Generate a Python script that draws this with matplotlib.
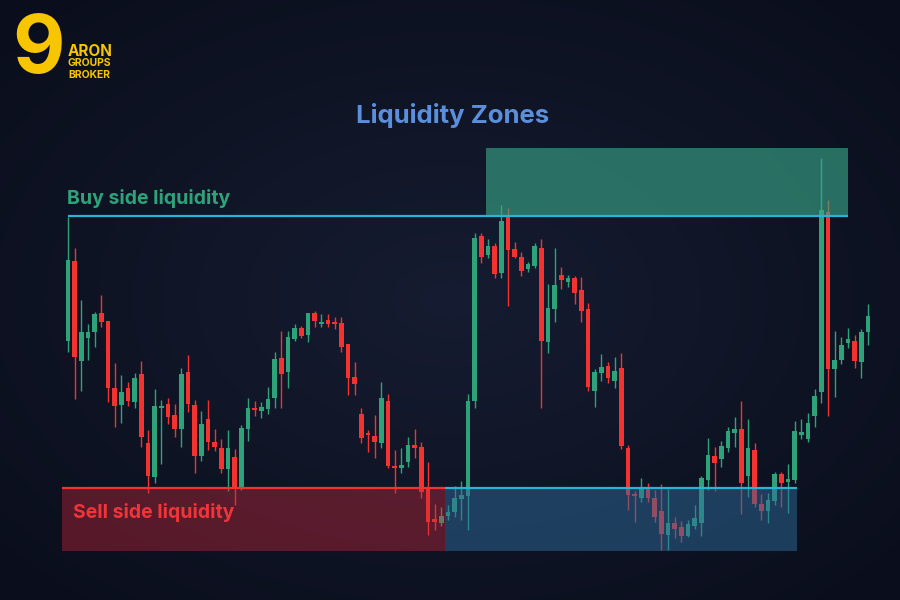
import numpy as np
import matplotlib.pyplot as plt
from matplotlib.patches import Rectangle

# candle data, price units (higher = up)
opens = [259, 339, 239, 262, 268, 287, 279, 212, 195, 212,
         198, 226, 157, 123, 192, 196, 185, 171, 228, 195,
         144, 181, 158, 152, 131, 143, 113, 171, 192, 189,
         191, 202, 242, 228, 261, 272, 265, 287, 276, 280,
         278, 277, 256, 223, 186, 167, 164, 157, 199, 134,
         132, 138, 155, 153, 111, 81, 77, 84, 88, 101,
         104, 199, 364, 345, 354, 327, 383, 351, 343, 331,
         334, 352, 258, 291, 325, 318, 322, 310, 291, 209,
         227, 234, 219, 232, 152, 106, 102, 112, 102, 89,
         65, 77, 73, 64, 74, 77, 120, 144, 141, 152,
         167, 171, 124, 150, 96, 89, 99, 126, 118, 120,
         165, 161, 184, 208, 388, 231, 240, 257, 259, 238,
         268]
closes = [340, 243, 268, 268, 286, 278, 212, 194, 208, 199,
          222, 163, 124, 194, 194, 183, 171, 226, 196, 144,
          176, 158, 153, 131, 152, 113, 172, 192, 190, 193,
          201, 241, 226, 263, 272, 264, 287, 279, 278, 276,
          276, 253, 222, 216, 162, 165, 158, 202, 134, 132,
          135, 155, 152, 108, 78, 78, 84, 88, 102, 105,
          199, 362, 343, 354, 326, 379, 350, 343, 329, 336,
          354, 259, 292, 315, 320, 322, 307, 289, 213, 228,
          233, 222, 229, 154, 105, 104, 112, 102, 83, 66,
          77, 71, 64, 76, 82, 122, 145, 137, 154, 169,
          171, 117, 152, 96, 89, 100, 126, 117, 121, 169,
          168, 177, 204, 390, 231, 240, 255, 261, 239, 268,
          284]
highs = [383, 352, 300, 276, 288, 305, 279, 237, 225, 218,
         227, 239, 170, 211, 200, 202, 196, 232, 245, 200,
         189, 200, 171, 161, 170, 151, 175, 202, 199, 198,
         213, 248, 269, 269, 276, 274, 287, 289, 286, 286,
         283, 283, 256, 238, 192, 170, 185, 218, 206, 150,
         152, 163, 171, 158, 138, 96, 93, 95, 114, 119,
         206, 367, 367, 361, 357, 395, 392, 358, 348, 338,
         357, 361, 316, 352, 333, 325, 324, 323, 297, 231,
         246, 238, 243, 247, 155, 109, 122, 117, 110, 116,
         111, 83, 79, 80, 95, 124, 162, 153, 159, 173,
         183, 199, 181, 157, 106, 107, 128, 128, 136, 179,
         181, 187, 211, 442, 400, 269, 263, 272, 265, 271,
         296]
lows = [248, 201, 209, 240, 253, 273, 198, 173, 177, 194,
        192, 153, 107, 117, 136, 176, 163, 153, 188, 127,
        139, 150, 149, 127, 109, 95, 110, 159, 184, 182,
        186, 192, 192, 212, 259, 262, 258, 273, 273, 273,
        271, 248, 205, 205, 157, 148, 142, 152, 132, 107,
        127, 133, 142, 102, 65, 70, 74, 80, 83, 80,
        70, 192, 337, 342, 322, 322, 294, 342, 324, 328,
        332, 192, 247, 278, 311, 313, 296, 278, 209, 193,
        219, 217, 212, 151, 90, 78, 98, 98, 78, 50,
        50, 62, 58, 63, 71, 64, 110, 109, 133, 148,
        153, 86, 103, 93, 80, 77, 95, 93, 87, 117,
        161, 158, 173, 197, 184, 203, 236, 252, 232, 222,
        255]

title = "Liquidity Zones"
buy_label = "Buy side liquidity"
sell_label = "Sell side liquidity"
logo_words = ["ARON", "GROUPS", "BROKER"]

# liquidity levels and zones (price units, candle index)
buy_level = 384
buy_zone = (62.7, 117.0, 384, 452)
sell_level = 112
sell_zone_red = (-0.9, 56.6, 49, 112)
sell_zone_blue = (56.6, 109.3, 49, 112)

GREEN = "#2ea37a"
RED = "#f2332f"
CYAN = "#27b4d8"
BG = "#10152a"
YELLOW = "#f7c600"
FONT = "Inter"

fig = plt.figure(figsize=(9, 6), dpi=100)
fig.patch.set_facecolor(BG)
ax = fig.add_axes([0, 0, 1, 1])
ax.set_xlim(-10.2, 124.8)
ax.set_ylim(0, 600)
ax.axis("off")

# background vignette
gx, gy = np.meshgrid(np.linspace(-1, 1, 300), np.linspace(-1, 1, 200))
r = np.sqrt(gx ** 2 + gy ** 2)
c_in = np.array([0x16, 0x1c, 0x31]) / 255
c_out = np.array([0x0a, 0x0e, 0x1c]) / 255
t = np.clip(r / 1.35, 0, 1)[..., None]
bg = c_in * (1 - t) + c_out * t
ax.imshow(bg, extent=[-10.2, 124.8, 0, 600], aspect="auto", zorder=0)

# candles
for i, (o, c, h, l) in enumerate(zip(opens, closes, highs, lows)):
    col = GREEN if c >= o else RED
    ax.vlines(i, l, h, color=col, lw=1.0, zorder=2)
    lo, hi = min(o, c), max(o, c)
    ax.add_patch(Rectangle((i - 0.37, lo), 0.74, max(hi - lo, 1.5),
                           facecolor=col, edgecolor="none", zorder=3))

# zones
x0, x1, y0, y1 = buy_zone
ax.add_patch(Rectangle((x0, y0), x1 - x0, y1 - y0, facecolor="#3aa88a", alpha=0.62,
                       edgecolor="none", zorder=4))
x0, x1, y0, y1 = sell_zone_red
ax.add_patch(Rectangle((x0, y0), x1 - x0, y1 - y0, facecolor="#d42a3c", alpha=0.38,
                       edgecolor="none", zorder=4))
x0, x1, y0, y1 = sell_zone_blue
ax.add_patch(Rectangle((x0, y0), x1 - x0, y1 - y0, facecolor="#2e6a9a", alpha=0.5,
                       edgecolor="none", zorder=4))

ax.hlines(buy_level, 0, buy_zone[1], color=CYAN, lw=1.6, zorder=5)
ax.hlines(sell_level, sell_zone_red[0], sell_zone_red[1], color=RED, lw=1.6, zorder=5)
ax.hlines(sell_level, sell_zone_blue[0], sell_zone_blue[1], color=CYAN, lw=1.6, zorder=5)

# texts
fig.text(453 / 900, 1 - 116 / 600, title, color="#5b8fdc", fontsize=18.5, fontweight="bold",
         family=FONT, ha="center", va="center")
fig.text(67 / 900, 1 - 198 / 600, buy_label, color="#2ea37a", fontsize=14, fontweight="bold",
         family=FONT, ha="left", va="center")
fig.text(73 / 900, 1 - 513 / 600, sell_label, color="#f0353a", fontsize=14, fontweight="bold",
         family=FONT, ha="left", va="center")

# logo
fig.text(38 / 900, 1 - 52 / 600, "9", color=YELLOW, fontsize=58, fontweight="bold",
         family=FONT, ha="center", va="center")
for k, (word, ypix, fs) in enumerate(zip(logo_words, [51, 63.5, 74.5], [11, 7.5, 7.5])):
    fig.text(68 / 900, 1 - ypix / 600, word, color=YELLOW, fontsize=fs,
             fontweight="bold", family=FONT, ha="left", va="center")

fig.savefig("out.png", dpi=100, facecolor=BG)
